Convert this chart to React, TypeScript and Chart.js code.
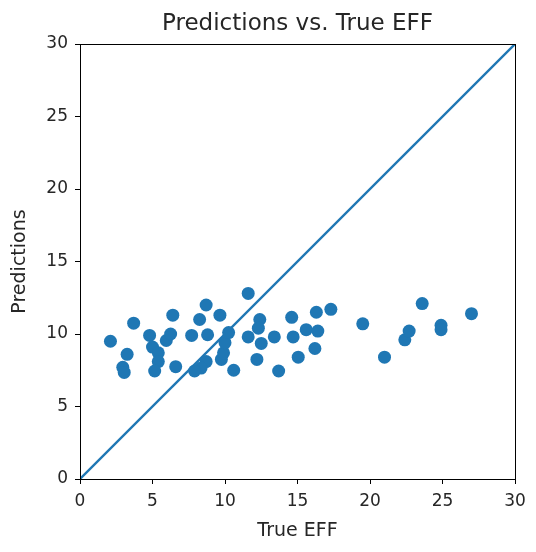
import React, { useEffect, useRef } from "react";
import { Chart, registerables } from "chart.js";

Chart.register(...registerables);

const trueEff: number[] = [
  2.1, 3.7, 3.25, 2.95, 3.05, 4.8, 5.0, 5.4, 5.4, 5.15, 5.95, 6.25, 6.4, 6.6,
  7.7, 8.25, 8.7, 8.8, 9.65, 8.7, 8.35, 7.9, 9.75, 9.9, 10.0, 10.25, 10.6,
  11.6, 11.6, 12.4, 12.3, 12.5, 12.2, 13.4, 13.7, 14.6, 14.7, 15.05, 15.6,
  16.3, 16.4, 16.2, 17.3, 19.5, 21.0, 22.4, 22.7, 23.6, 24.9, 24.9, 27.0,
];
const predictions: number[] = [
  9.5, 10.75, 8.6, 7.7, 7.35, 9.9, 9.1, 8.7, 8.1, 7.45, 9.55, 10.0, 11.3, 7.75,
  9.9, 11.0, 12.0, 9.95, 11.3, 8.1, 7.65, 7.45, 8.25, 8.7, 9.4, 10.1, 7.5,
  12.8, 9.8, 11.0, 10.4, 9.35, 8.25, 9.8, 7.45, 11.15, 9.8, 8.4, 10.3,
  11.5, 10.2, 9.0, 11.7, 10.7, 8.4, 9.6, 10.2, 12.1, 10.6, 10.3, 11.4,
];
const identityLine: number[] = [0, 30];
const tickValues: number[] = [0, 5, 10, 15, 20, 25, 30];

const BLUE = "#1f77b4";
const TEXT = "#262626";
const FONT = "'DejaVu Sans', sans-serif";

const framePlugin = {
  id: "frame",
  afterDatasetsDraw(chart: any) {
    const { ctx, chartArea } = chart;
    ctx.save();
    ctx.strokeStyle = "#000";
    ctx.lineWidth = 1;
    ctx.strokeRect(
      Math.round(chartArea.left) + 0.5,
      Math.round(chartArea.top) + 0.5,
      Math.round(chartArea.right - chartArea.left),
      Math.round(chartArea.bottom - chartArea.top)
    );
    ctx.restore();
  },
};

export default function App() {
  const ref = useRef<HTMLCanvasElement | null>(null);

  useEffect(() => {
    if (!ref.current) return;
    const points = trueEff.map((x, i) => ({ x, y: predictions[i] }));
    const line = identityLine.map((v) => ({ x: v, y: v }));
    const axisCommon = (title: string, titlePadding: any) => ({
      type: "linear" as const,
      min: 0,
      max: 30,
      afterBuildTicks: (scale: any) => {
        scale.ticks = tickValues.map((v) => ({ value: v }));
      },
      ticks: {
        color: TEXT,
        font: { family: FONT, size: 17 },
        padding: 7,
      },
      grid: {
        display: true,
        drawOnChartArea: false,
        drawTicks: true,
        tickLength: 5,
        color: "#000",
      },
      border: { display: true, color: "#000", width: 1 },
      title: {
        display: true,
        text: title,
        color: TEXT,
        font: { family: FONT, size: 19 },
        padding: titlePadding,
      },
    });

    const chart = new Chart(ref.current, {
      type: "scatter",
      data: {
        datasets: [
          {
            type: "scatter",
            data: points,
            backgroundColor: BLUE,
            borderWidth: 0,
            pointRadius: 6.5,
            pointHoverRadius: 6.5,
          },
          {
            type: "line",
            data: line,
            borderColor: BLUE,
            borderWidth: 2.3,
            pointRadius: 0,
            fill: false,
          } as any,
        ],
      },
      options: {
        animation: false,
        responsive: false,
        maintainAspectRatio: false,
        layout: { padding: { top: 0, right: 21, bottom: 0, left: 0 } },
        plugins: {
          legend: { display: false },
          tooltip: { enabled: false },
          title: {
            display: true,
            fullSize: false,
            text: "Predictions vs. True EFF",
            color: TEXT,
            font: { family: FONT, size: 23, weight: "normal" },
            padding: { top: 10, bottom: 6.4 },
          },
        },
        scales: {
          x: {
            ...axisCommon("True EFF", { top: 4, bottom: 10 }),
            position: "bottom",
            afterFit: (scale: any) => {
              scale.height = 73;
            },
          },
          y: {
            ...axisCommon("Predictions", { top: 9, bottom: 4 }),
            position: "left",
            afterFit: (scale: any) => {
              scale.width = 80;
            },
          },
        },
      } as any,
      plugins: [framePlugin],
    });
    return () => chart.destroy();
  }, []);

  return (
    <div style={{ position: "fixed", left: 0, top: 0, width: 536, height: 552, background: "#fff" }}>
      <canvas ref={ref} width={536} height={552} style={{ display: "block" }} />
    </div>
  );
}
